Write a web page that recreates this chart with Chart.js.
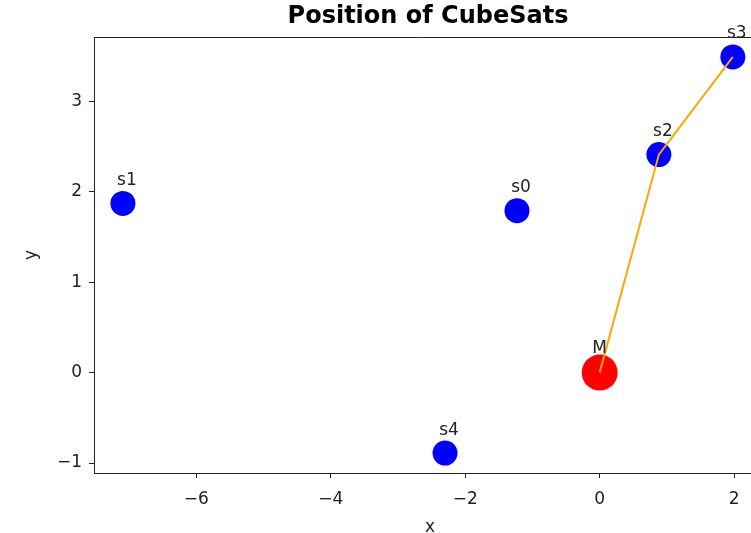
<!DOCTYPE html>
<html>
<head>
<meta charset="utf-8">
<script src="https://cdn.jsdelivr.net/npm/chart.js@4.4.1/dist/chart.umd.min.js"></script>
<style>
  html, body { margin: 0; padding: 0; background: #fff; }
  canvas { display: block; }
</style>
</head>
<body>
<canvas id="cubeChart" width="751" height="533"></canvas>
<script>
// satellite positions
const satNames = ['s0', 's1', 's2', 's3', 's4'];
const satX = [-1.23, -7.09, 0.88, 1.98, -2.30];
const satY = [1.79, 1.87, 2.41, 3.49, -0.89];

// mothership
const motherName = ['M'];
const motherX = [0];
const motherY = [0];

// orange path M -> s2 -> s3
const pathX = [0, 0.88, 1.98];
const pathY = [0, 2.41, 3.49];

const xTicks = [-6, -4, -2, 0, 2];
const yTicks = [-1, 0, 1, 2, 3];

const FONT = 'DejaVu Sans, sans-serif';
const INK = '#222';

function toPoints(xs, ys) {
    return xs.map((x, i) => ({ x: x, y: ys[i] }));
}

function fmt(v) {
    return v < 0 ? '\u2212' + Math.abs(v) : String(v);
}

// point labels, top spine, title and x label
// (the original axes run a little past the right edge of the picture, so
// the title and x label sit centred on that wider box, not on the visible one)
const annotatePlugin = {
    id: 'annotate',
    afterDatasetsDraw(chart) {
        const ctx = chart.ctx;
        const xs = chart.scales.x, ys = chart.scales.y;
        const area = chart.chartArea;

        ctx.save();
        ctx.strokeStyle = INK;
        ctx.lineWidth = 1;
        ctx.beginPath();
        ctx.moveTo(area.left, area.top + 0.5);
        ctx.lineTo(area.right, area.top + 0.5);
        ctx.stroke();

        ctx.fillStyle = INK;
        ctx.font = '17px ' + FONT;
        ctx.textAlign = 'center';
        ctx.textBaseline = 'middle';
        satNames.forEach((name, i) => {
            ctx.fillText(name, xs.getPixelForValue(satX[i]) + 4, ys.getPixelForValue(satY[i]) - 23);
        });
        motherName.forEach((name, i) => {
            ctx.fillText(name, xs.getPixelForValue(motherX[i]), ys.getPixelForValue(motherY[i]) - 24);
        });

        ctx.fillText('x', 430, 528);

        ctx.font = 'bold 24px ' + FONT;
        ctx.fillStyle = '#000';
        ctx.fillText('Position of CubeSats', 428, 17);
        ctx.restore();
    }
};

const axisStyle = {
    grid: { drawOnChartArea: false, drawTicks: true, tickLength: 5, color: INK },
    border: { display: true, color: INK, width: 1 },
    ticks: { color: INK, font: { family: FONT, size: 17 }, callback: fmt }
};

new Chart(document.getElementById('cubeChart'), {
    type: 'scatter',
    data: {
        datasets: [
            {
                type: 'line',
                data: toPoints(pathX, pathY),
                borderColor: '#FFA500',
                borderWidth: 2,
                pointRadius: 0,
                fill: false,
                tension: 0,
                order: 0
            },
            {
                data: toPoints(motherX, motherY),
                backgroundColor: '#FF0000',
                borderWidth: 0,
                pointRadius: 18,
                order: 1
            },
            {
                data: toPoints(satX, satY),
                backgroundColor: '#0000FF',
                borderWidth: 0,
                pointRadius: 12.5,
                order: 2
            }
        ]
    },
    options: {
        responsive: false,
        animation: false,
        events: [],
        layout: { autoPadding: false, padding: { top: 37, right: 0, left: 0, bottom: 0 } },
        plugins: {
            legend: { display: false },
            title: { display: false },
            tooltip: { enabled: false }
        },
        scales: {
            x: {
                type: 'linear',
                min: -7.52,
                max: 2.25,
                ...axisStyle,
                ticks: { ...axisStyle.ticks, padding: 11, maxRotation: 0 },
                afterBuildTicks: s => { s.ticks = xTicks.map(v => ({ value: v })); },
                afterFit: s => { s.height = 60; s.paddingLeft = 0; s.paddingRight = 0; }
            },
            y: {
                type: 'linear',
                min: -1.11,
                max: 3.71,
                ...axisStyle,
                ticks: { ...axisStyle.ticks, padding: 7 },
                title: { display: true, text: 'y', color: INK, font: { family: FONT, size: 17 }, padding: { top: 21, bottom: 0 } },
                afterBuildTicks: s => { s.ticks = yTicks.map(v => ({ value: v })); },
                afterFit: s => { s.width = 94; s.paddingTop = 0; s.paddingBottom = 0; }
            }
        }
    },
    plugins: [annotatePlugin]
});
</script>
</body>
</html>
